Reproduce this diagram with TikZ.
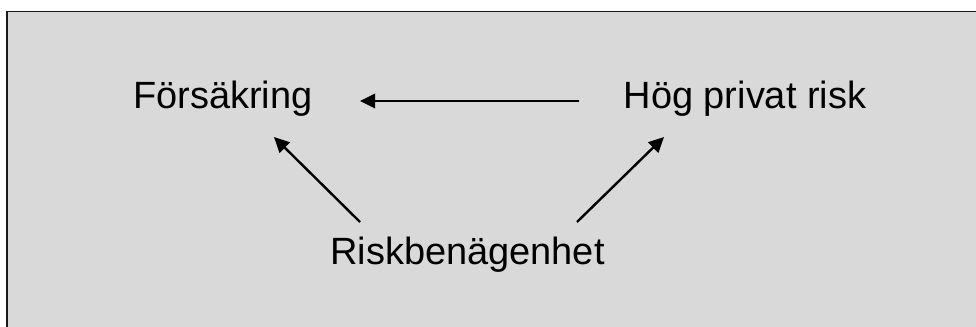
\documentclass[tikz,border=0pt]{standalone}
\usepackage{fontspec}
\setmainfont{Liberation Sans}
\usepackage{tikz}
\usetikzlibrary{positioning,arrows.meta,calc}
\definecolor{panelgray}{RGB}{217,217,217}
\tikzset{
  term/.style  = {inner sep=0pt, anchor=base, font=\fontsize{27}{32}\selectfont},
  arrow/.style = {-{Triangle[length=0.38cm, width=0.36cm]}, line width=1.7pt},
  panel/.style = {fill=panelgray, draw=black!90, line width=1.3pt},
}

\begin{document}
\begin{tikzpicture}[x=0.025cm, y=-0.025cm]
  \useasboundingbox (0,0) rectangle (976,327);
  \clip (0,0) rectangle (976,327);
  \draw[panel] (7,11.5) rectangle (990,340);
  \node[term] (fors) at (223,109) {Försäkring};
  \node[term] (hog)  at (745,109) {Hög privat risk};
  \node[term] (risk) at (467.5,265) {Riskbenägenhet};
  \draw[arrow] ([shift={(-44,-8)}]hog.base west) -- ([shift={(47,-8)}]fors.base east);
  \draw[arrow] ([shift={(30,-43)}]risk.base west) -- ([shift={(51,28)}]fors.base);
  \draw[arrow] ([shift={(-28,-43)}]risk.base east) -- ([shift={(-81,28)}]hog.base);
\end{tikzpicture}
\end{document}
